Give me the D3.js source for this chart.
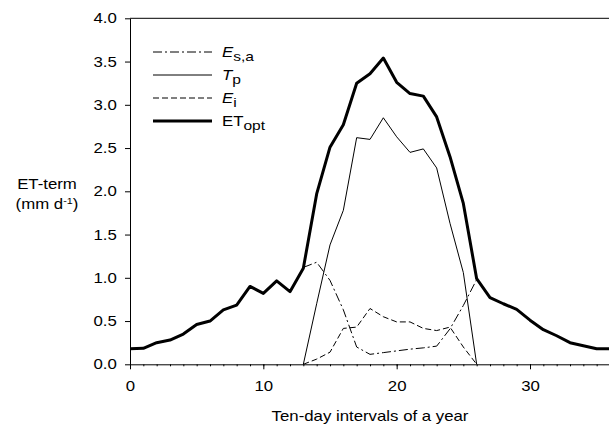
<!DOCTYPE html>
<html>
<head>
<meta charset="utf-8">
<script src="https://cdn.jsdelivr.net/npm/d3@7"></script>
<style>
    body { margin: 0; background: #fff; }
    text { font-family: "Liberation Sans", Arial, sans-serif; fill: #000; }
</style>
</head>
<body>
<div id="chart"></div>
<script>
// ten-day interval index 0..36
const intervals = d3.range(0, 37);

const etOpt = [0.18, 0.185, 0.25, 0.28, 0.35, 0.46, 0.50, 0.63, 0.685, 0.90,
    0.82, 0.965, 0.84, 1.11, 1.97, 2.51, 2.77, 3.25, 3.36, 3.54,
    3.26, 3.13, 3.10, 2.86, 2.40, 1.86, 0.99, 0.77, 0.70, 0.635,
    0.51, 0.40, 0.33, 0.25, 0.215, 0.18, 0.18];

// soil evaporation, transpiration, interception: growing season 13..26
const seasonIdx = d3.range(13, 27);
const esa = [1.12, 1.18, 0.97, 0.63, 0.20, 0.115, 0.135, 0.155, 0.175, 0.19, 0.21, 0.41, 0.68, 0.98];
const tp = [0, 0.70, 1.38, 1.78, 2.62, 2.60, 2.85, 2.63, 2.45, 2.49, 2.27, 1.63, 1.06, 0];
const ei = [0, 0.06, 0.14, 0.415, 0.43, 0.645, 0.55, 0.49, 0.49, 0.415, 0.39, 0.43, 0.20, 0];

const xTicks = [0, 10, 20, 30];
const yTicks = [0, 0.5, 1.0, 1.5, 2.0, 2.5, 3.0, 3.5, 4.0];

const width = 609;
const height = 426;
const margin = { top: 18.3, left: 130, bottom: 61.7 };
const sx = 1.2; // text in the original is a bit wide

const svg = d3.select("#chart")
    .append("svg")
    .attr("width", width)
    .attr("height", height);

const x = d3.scaleLinear()
    .domain([0, 36])
    .range([margin.left, 610]);

const y = d3.scaleLinear()
    .domain([0, 4])
    .range([height - margin.bottom, margin.top]);

// minor ticks on x
svg.append("g")
    .attr("transform", `translate(0, ${y(0)})`)
    .call(d3.axisBottom(x).tickValues(intervals).tickSize(2).tickSizeOuter(0).tickFormat(""))
    .call(g => g.select(".domain").remove());

// major x axis
svg.append("g")
    .attr("transform", `translate(0, ${y(0)})`)
    .call(d3.axisBottom(x).tickValues(xTicks).tickSize(5).tickSizeOuter(0).tickPadding(12).tickFormat(d3.format("d")))
    .call(g => g.selectAll("text").style("font-size", "14px").attr("font-family", null)
        .attr("transform", `scale(${sx},1)`));

svg.append("g")
    .attr("transform", `translate(${margin.left}, 0)`)
    .call(d3.axisLeft(y).tickValues(yTicks).tickSize(5).tickSizeOuter(0).tickPadding(6).tickFormat(d3.format(".1f")))
    .call(g => g.selectAll("text").style("font-size", "14px").attr("font-family", null)
        .attr("transform", `scale(${sx},1)`));

// top frame line
svg.append("line")
    .attr("x1", margin.left).attr("x2", width)
    .attr("y1", y(4)).attr("y2", y(4))
    .attr("stroke", "#000").attr("stroke-width", 1);

const line = d3.line()
    .x(d => x(d[0]))
    .y(d => y(d[1]));

const series = [
    { idx: seasonIdx, vals: ei, dash: "6,3", w: 1 },
    { idx: seasonIdx, vals: esa, dash: "9,3,2,3", w: 1 },
    { idx: seasonIdx, vals: tp, dash: null, w: 1 },
    { idx: intervals, vals: etOpt, dash: null, w: 3 }
];

series.forEach(s => {
    svg.append("path")
        .datum(s.idx.map((d, i) => [d, s.vals[i]]))
        .attr("d", line)
        .attr("fill", "none")
        .attr("stroke", "#000")
        .attr("stroke-width", s.w)
        .attr("stroke-linejoin", "round")
        .attr("stroke-dasharray", s.dash);
});

// legend
const legend = [
    { main: "E", italic: true, sub: "s,a", dash: "9,3,2,3", w: 1 },
    { main: "T", italic: true, sub: "p", dash: null, w: 1 },
    { main: "E", italic: true, sub: "i", dash: "6,3", w: 1 },
    { main: "ET", italic: false, sub: "opt", dash: null, w: 3 }
];

legend.forEach((d, i) => {
    const ly = 52 + i * 23;
    svg.append("line")
        .attr("x1", 153).attr("x2", 212)
        .attr("y1", ly).attr("y2", ly)
        .attr("stroke", "#000")
        .attr("stroke-width", d.w)
        .attr("stroke-dasharray", d.dash);
    const t = svg.append("text")
        .attr("transform", `translate(222, ${ly + 5}) scale(${sx},1)`)
        .style("font-size", "14px");
    t.append("tspan")
        .style("font-style", d.italic ? "italic" : "normal")
        .text(d.main);
    t.append("tspan")
        .attr("dy", 4)
        .style("font-size", "13px")
        .text(d.sub);
});

// y axis title
const yt = svg.append("text")
    .attr("transform", `translate(47, 0) scale(${sx},1)`)
    .attr("text-anchor", "middle")
    .style("font-size", "14px");
yt.append("tspan").attr("x", 0).attr("y", 189).text("ET-term");
const yt2 = svg.append("text")
    .attr("transform", `translate(47, 209) scale(${sx},1)`)
    .attr("text-anchor", "middle")
    .style("font-size", "14px");
yt2.append("tspan").text("(mm d");
yt2.append("tspan").attr("dy", -5).style("font-size", "9px").text("-1");
yt2.append("tspan").attr("dy", 5).text(")");

// x axis title
svg.append("text")
    .attr("transform", `translate(370, 421) scale(${sx},1)`)
    .attr("text-anchor", "middle")
    .style("font-size", "14px")
    .text("Ten-day intervals of a year");
</script>
</body>
</html>
